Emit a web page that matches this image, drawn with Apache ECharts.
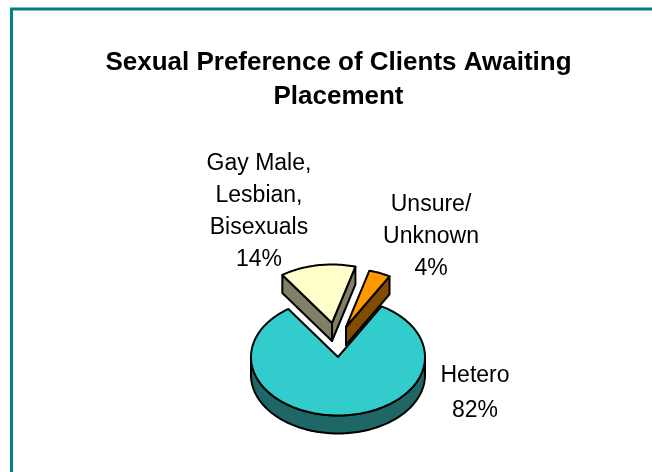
<!DOCTYPE html>
<html><head><meta charset="utf-8">
<style>html,body{margin:0;padding:0;background:#fff}#c{width:652px;height:472px}</style>
<script src="https://cdn.jsdelivr.net/npm/echarts@6/dist/echarts.min.js"></script>
</head><body><div id="c"></div>
<script>
const categories = ['Hetero', 'Gay Male,\nLesbian,\nBisexuals', 'Unsure/\nUnknown'];
const shares = [82, 14, 4];
const topColors = ['#33CCCC', '#FFFFCC', '#FF9900'];
const sideColors = ['#1F6666', '#808066', '#804D00'];
const explodeX = [0, -6, 8];
const explodeY = [0, -34, -30];
const labelX = [475, 259, 431];
const labelY = [393, 212, 237];
const labelLeading = [35, 32, 32];

const CX = 338, CY = 357, RX = 87, RY = 58.5, DEPTH = 18;
const START = 30 * Math.PI / 180;
const total = shares.reduce((a, b) => a + b, 0);

function pt(cx, cy, a) { return [cx + RX * Math.sin(a), cy - RY * Math.cos(a)]; }
function arcPts(cx, cy, a0, a1) {
  const out = []; const n = Math.max(2, Math.ceil((a1 - a0) * 40));
  for (let i = 0; i <= n; i++) out.push(pt(cx, cy, a0 + (a1 - a0) * i / n));
  return out;
}
const edge = { stroke: '#000', lineWidth: 2, lineJoin: 'round' };
function renderItem(params, api) {
  const i = params.dataIndex;
  let a0 = START;
  for (let k = 0; k < i; k++) a0 += shares[k] / total * 2 * Math.PI;
  const a1 = a0 + api.value(0) / total * 2 * Math.PI;
  const cx = CX + explodeX[i], cy = CY + explodeY[i];
  const children = [];
  const poly = (points, fill) => children.push({ type: 'polygon', shape: { points }, style: { fill, ...edge } });
  const down = p => [p[0], p[1] + DEPTH];
  // outer rim, visible only on the lower half of the ellipse
  const wrapLow = Math.max(a0, Math.PI / 2), wrapHigh = Math.min(a1, 3 * Math.PI / 2);
  if (wrapHigh > wrapLow) {
    const rim = arcPts(cx, cy, wrapLow, wrapHigh);
    poly(rim.concat(rim.slice().reverse().map(down)), sideColors[i]);
  }
  // cut faces of the exploded wedges
  if (i > 0) {
    const tip = [cx, cy];
    const left = i === 1 ? pt(cx, cy, a0) : tip;
    const right = pt(cx, cy, a1);
    poly([tip, left, down(left), down(tip)], sideColors[i]);
    poly([tip, right, down(right), down(tip)], sideColors[i]);
  }
  poly([[cx, cy]].concat(arcPts(cx, cy, a0, a1)), topColors[i]);
  children.push({
    type: 'text', silent: true,
    style: {
      x: labelX[i], y: labelY[i], text: categories[i] + '\n' + api.value(0) + '%',
      fill: '#000', font: '23px "Liberation Sans", Arial, sans-serif',
      align: 'center', verticalAlign: 'middle', lineHeight: labelLeading[i]
    }
  });
  return { type: 'group', children };
}
const chart = echarts.init(document.getElementById('c'), null, { renderer: 'canvas' });
chart.setOption({
  animation: false,
  backgroundColor: '#fff',
  title: {
    text: 'Sexual Preference of Clients Awaiting\nPlacement',
    left: 338, top: 41, textAlign: 'center',
    textStyle: { fontFamily: '"Liberation Sans", Arial, sans-serif', fontSize: 26, fontWeight: 'bold', color: '#000', lineHeight: 34 }
  },
  graphic: [{ type: 'rect', shape: { x: 11.5, y: 9, width: 700, height: 600 }, style: { fill: 'none', stroke: '#008080', lineWidth: 3 } }],
  series: [{
    type: 'custom', coordinateSystem: 'none', renderItem,
    data: shares.map((v, i) => ({ name: categories[i], value: [v] }))
  }]
});
chart.setOption({ title: { left: 333.5 } });
</script></body></html>
